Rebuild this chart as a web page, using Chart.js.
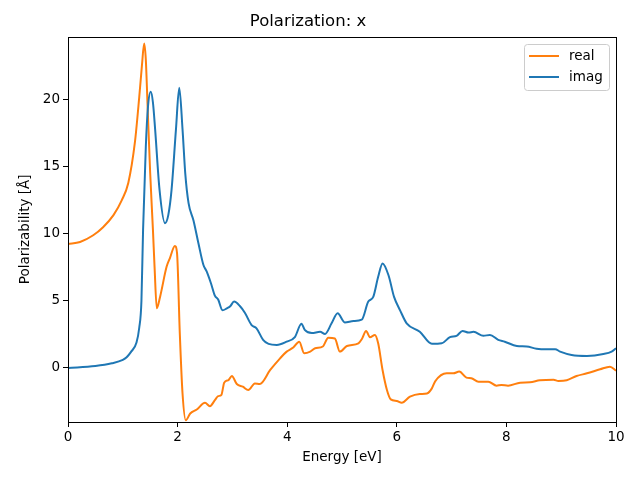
<!DOCTYPE html>
<html lang="en">
<head>
    <meta charset="UTF-8">
    <title>Polarization: x</title>
    <script src="https://cdn.jsdelivr.net/npm/chart.js@4.4.1/dist/chart.umd.min.js"></script>
    <style>
        body { margin: 0; background: #fff; }
        #wrap { width: 640px; height: 480px; }
    </style>
</head>
<body>
    <div id="wrap"><canvas id="myChart" width="640" height="480"></canvas></div>
    <script>
        // values
        const realE = [0, 0.22, 0.46, 0.64, 0.83, 0.98, 1.1, 1.22, 1.30, 1.35, 1.39, 1.42, 1.45, 1.50, 1.55, 1.58, 1.62, 1.68, 1.8, 1.86, 1.95, 1.99, 2.04, 2.09, 2.15, 2.23, 2.35, 2.5, 2.59, 2.68, 2.74, 2.8, 2.85, 2.93, 2.99, 3.08, 3.19, 3.29, 3.41, 3.5, 3.69, 3.87, 3.99, 4.11, 4.22, 4.31, 4.42, 4.51, 4.65, 4.75, 4.87, 4.96, 5.09, 5.30, 5.36, 5.44, 5.51, 5.60, 5.66, 5.74, 5.82, 5.89, 6.0, 6.09, 6.24, 6.42, 6.55, 6.64, 6.7, 6.91, 7.03, 7.14, 7.27, 7.36, 7.49, 7.67, 7.82, 7.91, 8.03, 8.25, 8.43, 8.61, 8.86, 8.95, 9.1, 9.28, 9.47, 9.71, 9.89, 10];
        const realY = [9.25, 9.4, 9.9, 10.5, 11.4, 12.5, 13.8, 16.8, 20.2, 22.6, 24.2, 23, 19.8, 14.5, 10.3, 7.5, 4.45, 5.3, 7.56, 8.2, 9.1, 8.55, 2.6, -1.9, -3.9, -3.4, -3.1, -2.6, -2.85, -2.4, -2.1, -2.0, -1.1, -0.9, -0.6, -1.2, -1.4, -1.65, -1.15, -1.2, -0.15, 0.72, 1.22, 1.52, 1.96, 1.1, 1.22, 1.47, 1.6, 2.26, 2.2, 1.22, 1.64, 1.84, 2.14, 2.76, 2.3, 2.46, 1.84, -0.15, -1.64, -2.34, -2.46, -2.59, -2.14, -1.94, -1.9, -1.52, -1.0, -0.4, -0.4, -0.27, -0.72, -0.77, -1.02, -1.02, -1.32, -1.27, -1.32, -1.1, -1.07, -0.92, -0.87, -0.97, -0.92, -0.6, -0.4, -0.1, 0.1, -0.2];

        const imagE = [0, 0.5, 0.8, 1.0, 1.07, 1.15, 1.25, 1.30, 1.34, 1.37, 1.42, 1.46, 1.51, 1.55, 1.59, 1.67, 1.77, 1.83, 1.89, 1.97, 2.03, 2.09, 2.14, 2.2, 2.29, 2.38, 2.47, 2.53, 2.61, 2.68, 2.74, 2.82, 2.9, 2.96, 3.03, 3.14, 3.23, 3.35, 3.44, 3.56, 3.66, 3.81, 3.99, 4.14, 4.26, 4.32, 4.45, 4.6, 4.69, 4.81, 4.92, 5.05, 5.21, 5.36, 5.48, 5.57, 5.66, 5.74, 5.85, 5.95, 6.06, 6.18, 6.42, 6.64, 6.82, 6.97, 7.09, 7.2, 7.31, 7.40, 7.58, 7.7, 7.85, 7.97, 8.19, 8.37, 8.55, 8.74, 8.89, 8.98, 9.19, 9.47, 9.77, 9.92, 10];
        const imagY = [0, 0.15, 0.35, 0.6, 0.8, 1.2, 1.9, 3.0, 5.0, 10.3, 16.5, 19.5, 20.6, 19.8, 17.8, 13.3, 10.8, 11.4, 13.3, 17.8, 20.9, 17.8, 14.5, 12.3, 11, 9.3, 7.7, 7.2, 6.3, 5.4, 5.1, 4.3, 4.45, 4.6, 4.95, 4.6, 4.1, 3.2, 2.96, 2.1, 1.8, 1.72, 1.96, 2.3, 3.3, 2.84, 2.6, 2.7, 2.54, 3.33, 4.08, 3.4, 3.5, 3.6, 4.95, 5.3, 6.8, 7.8, 6.9, 5.3, 4.3, 3.33, 2.7, 1.8, 1.84, 2.3, 2.4, 2.76, 2.64, 2.7, 2.4, 2.46, 2.1, 1.96, 1.64, 1.6, 1.44, 1.4, 1.4, 1.22, 0.97, 0.9, 1.04, 1.22, 1.47];

        const xTicks = [0, 2, 4, 6, 8, 10];
        const yTicks = [0, 5, 10, 15, 20];
        const seriesNames = ["real", "imag"];
        const seriesColors = ["#ff7f0e", "#1f77b4"];

        const font = "'DejaVu Sans', sans-serif";

        function toPoints(xs, ys) {
            return xs.map((x, i) => ({ x: x, y: ys[i] }));
        }

        // frame + matplotlib style legend
        const framePlugin = {
            id: 'frame',
            afterDraw(chart) {
                const a = chart.chartArea;
                const c = chart.ctx;
                c.save();
                c.strokeStyle = '#000';
                c.lineWidth = 1;
                c.strokeRect(Math.round(a.left) + 0.5, Math.round(a.top) + 0.5,
                    Math.round(a.right - a.left), Math.round(a.bottom - a.top));

                // legend box
                const bx = 524.5, by = 44.5, bw = 85, bh = 46;
                c.fillStyle = 'rgba(255,255,255,0.8)';
                c.strokeStyle = '#cccccc';
                c.beginPath();
                c.roundRect(bx, by, bw, bh, 3);
                c.fill();
                c.stroke();
                c.font = "13.5px " + font;
                c.textBaseline = 'middle';
                seriesNames.forEach((name, i) => {
                    const y = 56 + i * 21;
                    c.strokeStyle = seriesColors[i];
                    c.lineWidth = 2;
                    c.beginPath();
                    c.moveTo(529, y);
                    c.lineTo(559, y);
                    c.stroke();
                    c.fillStyle = '#000';
                    c.fillText(name, 569, y);
                });
                c.restore();
            }
        };

        const ctx = document.getElementById('myChart');
        new Chart(ctx, {
            type: 'line',
            data: {
                datasets: [{
                    label: seriesNames[0],
                    data: toPoints(realE, realY),
                    borderColor: seriesColors[0],
                    order: 1
                }, {
                    label: seriesNames[1],
                    data: toPoints(imagE, imagY),
                    borderColor: seriesColors[1],
                    order: 0
                }]
            },
            options: {
                responsive: false,
                animation: false,
                events: [],
                layout: { padding: { left: 0, right: 24, top: 0, bottom: 0 } },
                elements: {
                    point: { radius: 0 },
                    line: { borderWidth: 2, cubicInterpolationMode: 'monotone', fill: false }
                },
                plugins: {
                    legend: { display: false },
                    tooltip: { enabled: false },
                    title: {
                        display: true,
                        text: 'Polarization: x',
                        color: '#000',
                        font: { family: font, size: 16.5, weight: 'normal' },
                        padding: { top: 12, bottom: 5 }
                    }
                },
                scales: {
                    x: {
                        type: 'linear',
                        min: 0,
                        max: 10,
                        afterBuildTicks: s => { s.ticks = xTicks.map(v => ({ value: v })); },
                        afterFit: s => { s.height = 58; },
                        border: { display: false },
                        grid: { drawOnChartArea: false, drawTicks: true, tickLength: 5, color: '#000' },
                        ticks: { color: '#000', padding: 2, maxRotation: 0, font: { family: font, size: 13.5 } },
                        title: {
                            display: true,
                            text: 'Energy [eV]',
                            color: '#000',
                            font: { family: font, size: 13.5 },
                            padding: { top: 4, bottom: 14 }
                        }
                    },
                    y: {
                        type: 'linear',
                        min: -4.03,
                        max: 24.7,
                        afterBuildTicks: s => { s.ticks = yTicks.map(v => ({ value: v })); },
                        afterFit: s => { s.width = 68; },
                        border: { display: false },
                        grid: { drawOnChartArea: false, drawTicks: true, tickLength: 5, color: '#000' },
                        ticks: { color: '#000', padding: 3, font: { family: font, size: 13.5 } },
                        title: {
                            display: true,
                            text: 'Polarizability [Å]',
                            color: '#000',
                            font: { family: font, size: 13.5 },
                            padding: { top: 17, bottom: 4 }
                        }
                    }
                }
            },
            plugins: [framePlugin]
        });
    </script>
</body>
</html>
